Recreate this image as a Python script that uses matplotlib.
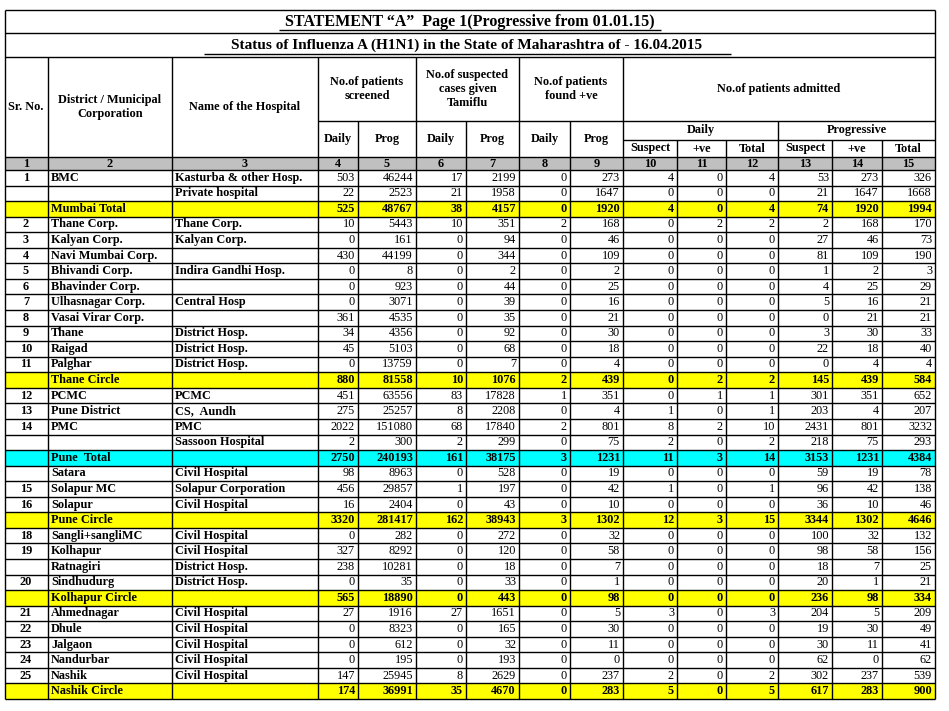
import matplotlib
matplotlib.use("Agg")
import matplotlib.pyplot as plt

plt.rcParams["font.family"] = "Liberation Serif"

TITLE = "STATEMENT \u201cA\u201d  Page 1(Progressive from 01.01.15)"
SUBTITLE = "Status of Influenza A (H1N1) in the State of Maharashtra of - 16.04.2015"

sr_no = ["1", "", "", "2", "3", "4", "5", "6", "7", "8", "9", "10", "11", "",
         "12", "13", "14", "", "", "", "15", "16", "", "18", "19", "", "20", "",
         "21", "22", "23", "24", "25", ""]
districts = ["BMC", "", "Mumbai Total", "Thane Corp.", "Kalyan Corp.", "Navi Mumbai Corp.",
             "Bhivandi Corp.", "Bhavinder Corp.", "Ulhasnagar Corp.", "Vasai Virar Corp.",
             "Thane", "Raigad", "Palghar", "Thane Circle", "PCMC", "Pune District", "PMC", "",
             "Pune  Total", "Satara", "Solapur MC", "Solapur", "Pune Circle", "Sangli+sangliMC",
             "Kolhapur", "Ratnagiri", "Sindhudurg", "Kolhapur Circle", "Ahmednagar", "Dhule",
             "Jalgaon", "Nandurbar", "Nashik", "Nashik Circle"]
hospitals = ["Kasturba & other Hosp.", "Private hospital", "", "Thane Corp.", "Kalyan Corp.", "",
             "Indira Gandhi Hosp.", "", "Central Hosp", "", "District Hosp.", "District Hosp.",
             "District Hosp.", "", "PCMC", "CS,  Aundh", "PMC", "Sassoon Hospital", "",
             "Civil Hospital", "Solapur Corporation", "Civil Hospital", "", "Civil Hospital",
             "Civil Hospital", "District Hosp.", "District Hosp.", "", "Civil Hospital",
             "Civil Hospital", "Civil Hospital", "Civil Hospital", "Civil Hospital", ""]
values = [
    [503, 46244, 17, 2199, 0, 273, 4, 0, 4, 53, 273, 326],
    [22, 2523, 21, 1958, 0, 1647, 0, 0, 0, 21, 1647, 1668],
    [525, 48767, 38, 4157, 0, 1920, 4, 0, 4, 74, 1920, 1994],
    [10, 5443, 10, 351, 2, 168, 0, 2, 2, 2, 168, 170],
    [0, 161, 0, 94, 0, 46, 0, 0, 0, 27, 46, 73],
    [430, 44199, 0, 344, 0, 109, 0, 0, 0, 81, 109, 190],
    [0, 8, 0, 2, 0, 2, 0, 0, 0, 1, 2, 3],
    [0, 923, 0, 44, 0, 25, 0, 0, 0, 4, 25, 29],
    [0, 3071, 0, 39, 0, 16, 0, 0, 0, 5, 16, 21],
    [361, 4535, 0, 35, 0, 21, 0, 0, 0, 0, 21, 21],
    [34, 4356, 0, 92, 0, 30, 0, 0, 0, 3, 30, 33],
    [45, 5103, 0, 68, 0, 18, 0, 0, 0, 22, 18, 40],
    [0, 13759, 0, 7, 0, 4, 0, 0, 0, 0, 4, 4],
    [880, 81558, 10, 1076, 2, 439, 0, 2, 2, 145, 439, 584],
    [451, 63556, 83, 17828, 1, 351, 0, 1, 1, 301, 351, 652],
    [275, 25257, 8, 2208, 0, 4, 1, 0, 1, 203, 4, 207],
    [2022, 151080, 68, 17840, 2, 801, 8, 2, 10, 2431, 801, 3232],
    [2, 300, 2, 299, 0, 75, 2, 0, 2, 218, 75, 293],
    [2750, 240193, 161, 38175, 3, 1231, 11, 3, 14, 3153, 1231, 4384],
    [98, 8963, 0, 528, 0, 19, 0, 0, 0, 59, 19, 78],
    [456, 29857, 1, 197, 0, 42, 1, 0, 1, 96, 42, 138],
    [16, 2404, 0, 43, 0, 10, 0, 0, 0, 36, 10, 46],
    [3320, 281417, 162, 38943, 3, 1302, 12, 3, 15, 3344, 1302, 4646],
    [0, 282, 0, 272, 0, 32, 0, 0, 0, 100, 32, 132],
    [327, 8292, 0, 120, 0, 58, 0, 0, 0, 98, 58, 156],
    [238, 10281, 0, 18, 0, 7, 0, 0, 0, 18, 7, 25],
    [0, 35, 0, 33, 0, 1, 0, 0, 0, 20, 1, 21],
    [565, 18890, 0, 443, 0, 98, 0, 0, 0, 236, 98, 334],
    [27, 1916, 27, 1651, 0, 5, 3, 0, 3, 204, 5, 209],
    [0, 8323, 0, 165, 0, 30, 0, 0, 0, 19, 30, 49],
    [0, 612, 0, 32, 0, 11, 0, 0, 0, 30, 11, 41],
    [0, 195, 0, 193, 0, 0, 0, 0, 0, 62, 0, 62],
    [147, 25945, 8, 2629, 0, 237, 2, 0, 2, 302, 237, 539],
    [174, 36991, 35, 4670, 0, 283, 5, 0, 5, 617, 283, 900],
]
highlight = {2: "#FFFF00", 13: "#FFFF00", 18: "#00FFFF", 22: "#FFFF00", 27: "#FFFF00", 33: "#FFFF00"}

# column edges in pixels
XS = [5, 48, 172, 318, 358, 416, 466, 519, 570, 623, 677, 726, 778, 832, 882, 935]
Y_TOP, Y_SUB, Y_HEAD, Y_SUBHEAD, Y_ADM2, Y_NUM, Y_DATA, Y_END = 10, 33, 57, 121, 140, 157, 170, 699
FS = 8.8

fig = plt.figure(figsize=(9.49, 7.11), dpi=100)
ax = fig.add_axes([0, 0, 1, 1])
ax.set_xlim(0, 949)
ax.set_ylim(711, 0)
ax.axis("off")


def hline(x0, x1, y, lw=1.0):
    ax.plot([x0, x1], [y, y], color="black", lw=lw, solid_capstyle="butt")


def vline(x, y0, y1, lw=1.0):
    ax.plot([x, x], [y0, y1], color="black", lw=lw, solid_capstyle="butt")


def fill(x0, x1, y0, y1, color):
    ax.add_patch(plt.Rectangle((x0, y0), x1 - x0, y1 - y0, facecolor=color, edgecolor="none", zorder=0))


def txt(x, y, s, ha="center", bold=True, size=FS):
    ax.text(x, y, s, ha=ha, va="center", fontsize=size, fontweight="bold" if bold else "normal")


# title block
ax.text(470, 21.5, TITLE, ha="center", va="center", fontsize=11.5, fontweight="bold")
hline(279, 661, 30, lw=1)
ax.text(467, 45.5, SUBTITLE, ha="center", va="center", fontsize=11, fontweight="bold")
hline(204, 731, 54, lw=1)

# header
mid_h = (Y_HEAD + Y_NUM) / 2
txt(26, mid_h, "Sr. No.")
txt(110, mid_h, "District / Municipal\nCorporation")
txt(245, mid_h, "Name of the Hospital")
for i, lab in zip([3, 5, 7], ["No.of patients\nscreened", "No.of suspected\ncases given\nTamiflu",
                              "No.of patients\nfound +ve"]):
    txt((XS[i] + XS[i + 2]) / 2, (Y_HEAD + Y_SUBHEAD) / 2, lab)
    txt((XS[i] + XS[i + 1]) / 2, (Y_SUBHEAD + Y_NUM) / 2, "Daily")
    txt((XS[i + 1] + XS[i + 2]) / 2, (Y_SUBHEAD + Y_NUM) / 2, "Prog")
txt((XS[9] + XS[15]) / 2, (Y_HEAD + Y_SUBHEAD) / 2, "No.of patients admitted")
txt((XS[9] + XS[12]) / 2, (Y_SUBHEAD + Y_ADM2) / 2, "Daily")
txt((XS[12] + XS[15]) / 2, (Y_SUBHEAD + Y_ADM2) / 2, "Progressive")
for k, lab in enumerate(["Suspect", "+ve", "Total"] * 2):
    txt((XS[9 + k] + XS[10 + k]) / 2, (Y_ADM2 + Y_NUM) / 2, lab)

# number row
fill(XS[0], XS[-1], Y_NUM, Y_DATA, "#C0C0C0")
for k in range(15):
    txt((XS[k] + XS[k + 1]) / 2, (Y_NUM + Y_DATA) / 2 + 0.5, str(k + 1))

# data rows
nrows = len(values)
rh = (Y_END - Y_DATA) / nrows
for r in range(nrows):
    y0 = Y_DATA + r * rh
    yc = y0 + rh / 2
    is_total = r in highlight
    if is_total:
        fill(XS[0], XS[-1], y0, y0 + rh, highlight[r])
    txt(26, yc, sr_no[r])
    txt(XS[1] + 3, yc, districts[r], ha="left", bold=True)
    txt(XS[2] + 3, yc, hospitals[r], ha="left", bold=True)
    for k, v in enumerate(values[r]):
        txt(XS[k + 4] - 3, yc, str(v), ha="right", bold=is_total)
    hline(XS[0], XS[-1], y0 + rh)

# grid lines
hline(XS[0], XS[-1], Y_TOP)
hline(XS[0], XS[-1], Y_SUB)
hline(XS[0], XS[-1], Y_HEAD)
hline(XS[3], XS[-1], Y_SUBHEAD)
hline(XS[9], XS[-1], Y_ADM2)
hline(XS[0], XS[-1], Y_NUM)
hline(XS[0], XS[-1], Y_DATA)
vline(XS[0], Y_TOP, Y_END)
vline(XS[-1], Y_TOP, Y_END)
for i in range(1, 15):
    if i in (4, 6, 8):
        vline(XS[i], Y_SUBHEAD, Y_END)
    elif i in (10, 11, 13, 14):
        vline(XS[i], Y_ADM2, Y_END)
    elif i == 12:
        vline(XS[i], Y_SUBHEAD, Y_END)
    else:
        vline(XS[i], Y_HEAD, Y_END)

fig.savefig("out.png", dpi=100)
